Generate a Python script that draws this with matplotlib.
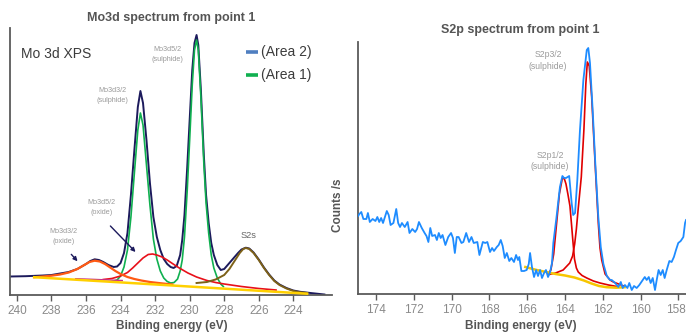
import matplotlib
matplotlib.use('Agg')
import matplotlib.pyplot as plt
import matplotlib.transforms as mtransforms

plt.rcParams['font.family'] = ['Liberation Sans', 'DejaVu Sans']

# ---- Mo3d panel (binding energy eV, counts in arbitrary units) ----
env_ev = [240.4, 239.5, 238.5, 238.0, 237.5, 237.0, 236.5, 236.0, 235.75, 235.5,
          235.25, 235.0, 234.7, 234.4, 234.2, 234.0, 233.8, 233.6, 233.4, 233.2,
          233.0, 232.85, 232.7, 232.5, 232.3, 232.1, 231.9, 231.7, 231.5, 231.3,
          231.1, 230.93, 230.75, 230.55, 230.43, 230.3, 230.14, 230.0, 229.85, 229.72,
          229.6, 229.5, 229.35, 229.18, 229.05, 228.9, 228.75, 228.6, 228.4, 228.2,
          228.0, 227.8, 227.5, 227.2, 227.0, 226.75, 226.55, 226.3, 226.0, 225.7,
          225.4, 225.1, 224.8, 224.4, 224.0, 223.6, 223.0, 222.2]
env_counts = [18.5, 18.8, 19.5, 20, 21.5, 23, 26, 31, 34, 35.7,
              35, 33, 30, 28, 28.5, 32, 42, 62, 100, 145,
              188, 204, 192, 155, 112, 78, 58, 45, 36, 31,
              28, 27, 29, 40, 55, 80, 128, 175, 225, 252,
              260, 250, 205, 140, 100, 72, 52, 40, 30, 25,
              26, 30, 36, 42, 45.5, 47.3, 46.5, 42.5, 35.5, 27.5,
              20.5, 14.5, 10.5, 7, 4.5, 3.2, 2, 0.5]

area1_ev = [234.5, 234.2, 234.0, 233.8, 233.6, 233.4, 233.2, 233.0, 232.85, 232.7,
            232.5, 232.3, 232.1, 231.9, 231.7, 231.5, 231.3, 231.1, 230.9, 230.7,
            230.55, 230.43, 230.3, 230.14, 230.0, 229.85, 229.72, 229.6, 229.5, 229.35,
            229.18, 229.05, 228.9, 228.75, 228.6, 228.4, 228.2, 228.05]
area1_counts = [13.5, 15, 19, 28, 45, 78, 122, 165, 182, 170,
                130, 90, 56, 36, 24, 17, 13.5, 12, 12.5, 16,
                24, 35, 58, 105, 155, 210, 245, 255, 245, 198,
                132, 92, 62, 40, 27, 17, 11, 8.5]

mo_bg_ev = [239.0, 231.0, 223.2]
mo_bg_counts = [17.8, 9.5, 1.3]

ox52_ev = [235.0, 234.5, 234.0, 233.6, 233.3, 233.0, 232.7, 232.4, 232.15, 231.9,
           231.6, 231.3, 231.0, 230.6, 230.1, 229.6, 229.0, 228.5, 228.0, 227.0,
           226.0, 225.0]
ox52_counts = [15.5, 16.5, 19, 22.5, 27, 32, 37, 40.5, 41, 40,
               38, 35, 31.5, 27, 22, 18, 14.5, 12.5, 11, 8.5,
               6.5, 5]

ox32_ev = [239.0, 238.5, 238.0, 237.5, 237.0, 236.5, 236.1, 235.8, 235.5, 235.2,
           234.9, 234.6, 234.3, 234.0, 233.6, 233.2, 232.8, 232.3, 231.8, 231.0]
ox32_counts = [17.8, 18.5, 19.3, 20.5, 22.5, 26, 30, 33, 34.3, 33.5,
               31, 27.5, 24, 21, 18, 16, 14.5, 13, 12, 10.5]

minor_ev = [236.6, 235.5, 234.4, 233.9]
minor_counts = [16.3, 15.6, 14.8, 14.5]

s2s_ev = [229.6, 229.0, 228.5, 228.0, 227.7, 227.4, 227.1, 226.9, 226.75, 226.55,
          226.3, 226.0, 225.7, 225.4, 225.1, 224.8, 224.4, 224.0, 223.6, 223.2]
s2s_counts = [12, 13, 15.5, 20, 26, 34, 42, 46, 47, 46,
              42, 35, 27, 20, 14, 10, 6.5, 4, 2.8, 2]

# ---- S2p panel ----
s2p_ev = [174.95, 174.88, 174.78, 174.67, 174.51, 174.43, 174.33, 174.18, 174.03, 173.93,
          173.83, 173.73, 173.63, 173.43, 173.33, 173.23, 173.08, 172.93, 172.83, 172.73,
          172.63, 172.48, 172.33, 172.23, 172.08, 171.93, 171.83, 171.73, 171.58, 171.43,
          171.33, 171.23, 171.13, 171.03, 170.88, 170.78, 170.68, 170.58, 170.48, 170.33,
          170.18, 170.03, 169.93, 169.83, 169.73, 169.63, 169.48, 169.38, 169.23, 169.08,
          168.95, 168.83, 168.64, 168.53, 168.35, 168.22, 168.11, 167.97, 167.86, 167.76,
          167.61, 167.51, 167.40, 167.30, 167.19, 167.08, 166.95, 166.84, 166.70, 166.59,
          166.49, 166.42, 166.31, 166.17, 166.03, 165.92, 165.85, 165.75, 165.64, 165.53,
          165.43, 165.32, 165.22, 165.11, 165.01, 164.90, 164.79, 164.69, 164.62, 164.45,
          164.27, 164.14, 164.05, 163.95, 163.78, 163.65, 163.57, 163.47, 163.35, 163.21,
          163.03, 162.85, 162.77, 162.68, 162.53, 162.40, 162.24, 162.11, 161.97, 161.79,
          161.62, 161.53, 161.35, 161.18, 161.05, 160.95, 160.83, 160.70, 160.60, 160.47,
          160.35, 160.21, 160.07, 159.89, 159.78, 159.68, 159.57, 159.47, 159.36, 159.24,
          159.15, 159.05, 158.94, 158.83, 158.73, 158.62, 158.48, 158.36, 158.24, 158.13,
          158.01, 157.88, 157.74, 157.65, 157.6]
s2p_counts = [78, 80, 82, 75, 75, 81, 72, 75, 73, 77,
              72, 76, 71, 83, 79, 69, 71, 85, 71, 67,
              71, 67, 72, 61, 65, 62, 65, 72, 66, 61,
              58, 52, 66, 58, 59, 54, 61, 56, 59, 49,
              57, 61, 56, 41, 57, 57, 51, 52, 61, 52,
              57, 51, 52, 39, 52, 51, 52, 42, 46, 43,
              47, 49, 54, 48, 36, 41, 33, 36, 32, 39,
              34, 37, 23, 23, 24, 30, 41, 27, 17, 24,
              18, 24, 16, 21, 24, 17, 22, 31, 51, 77,
              107, 118, 116, 116, 118, 91, 79, 81, 114, 164,
              214, 244, 246, 231, 181, 131, 77, 47, 30, 18,
              14, 14, 11, 7, 12, 6, 9, 6, 11, 4,
              8, 6, 9, 14, 17, 14, 17, 11, 16, 4,
              14, 24, 19, 24, 16, 24, 33, 32, 37, 44,
              51, 53, 57, 71, 74]

p12_ev = [164.9, 164.75, 164.6, 164.45, 164.3, 164.15, 164.05, 163.95, 163.85, 163.74,
          163.65, 163.58, 163.5, 163.4, 163.3, 163.1, 162.85, 162.5, 162.15, 161.7, 161.26]
p12_counts = [20, 24, 40, 70, 100, 115, 116, 110, 100, 88,
              68, 52, 35, 26, 22, 18.5, 16, 13, 11, 9, 7.5]

p32_ev = [164.85, 164.5, 164.1, 163.75, 163.6, 163.49, 163.4, 163.31, 163.14, 163.0,
          162.9, 162.82, 162.72, 162.59, 162.41, 162.24, 162.15, 162.06, 161.88, 161.79,
          161.62, 161.44, 161.1, 160.9]
p32_counts = [19.5, 21, 24, 31, 38, 50, 65, 84, 117, 165,
              210, 232, 228, 197, 131, 71, 46, 34, 20, 18,
              14, 12, 9.5, 8]

s_bg_ev = [166.1, 165.8, 165.5, 165.0, 164.5, 164.0, 163.5, 163.0, 162.6, 162.2,
           161.8, 161.3, 160.85]
s_bg_counts = [27, 25.5, 24, 22, 20, 18.5, 16.5, 13.5, 10.5, 8,
               6.8, 6.3, 6.8]

grey_axis = '#5a5a5a'
tick_grey = '#8a8a8a'
title_grey = '#555555'

fig = plt.figure(figsize=(6.86, 3.34), dpi=100)
ax1 = fig.add_axes([10 / 686, 39 / 334, 322 / 686, 267 / 334])
ax2 = fig.add_axes([357.7 / 686, 40 / 334, 328.3 / 686, 252.3 / 334])

for ax in (ax1, ax2):
    for side in ('top', 'right'):
        ax.spines[side].set_visible(False)
    for side in ('left', 'bottom'):
        ax.spines[side].set_color(grey_axis)
        ax.spines[side].set_linewidth(1.3)
    ax.set_yticks([])
    ax.tick_params(axis='x', direction='out', length=4, width=1, color=grey_axis,
                   labelsize=8.5, labelcolor=tick_grey, pad=3)

# Mo3d
ax1.plot(env_ev, env_counts, color='#1c1a5c', lw=1.4, zorder=2)
ax1.plot(area1_ev, area1_counts, color='#10b050', lw=1.2, zorder=3)
ax1.plot(ox52_ev, ox52_counts, color='#e8101a', lw=1.2, zorder=3)
ax1.plot(ox32_ev, ox32_counts, color='#ff5a14', lw=1.6, zorder=3)
ax1.plot(minor_ev, minor_counts, color='#c8308c', lw=1.0, zorder=3)
ax1.plot(s2s_ev, s2s_counts, color='#7d6118', lw=1.4, zorder=3)
ax1.plot(mo_bg_ev, mo_bg_counts, color='#ffd000', lw=1.8, zorder=4)
ax1.set_xlim(240.4, 221.76)
ax1.set_ylim(0, 267)
ax1.set_xticks(range(240, 223, -2))

ann_grey = '#9a9a9a'
ax1.text(231.3, 240.5, 'Mo3d5/2\n(sulphide)', fontsize=5.2, color=ann_grey,
         ha='center', va='center', linespacing=1.5)
ax1.text(234.49, 199.3, 'Mo3d3/2\n(sulphide)', fontsize=5.2, color=ann_grey,
         ha='center', va='center', linespacing=1.5)
ax1.text(235.12, 87.5, 'Mo3d5/2\n(oxide)', fontsize=5.2, color=ann_grey,
         ha='center', va='center', linespacing=1.5)
ax1.text(237.3, 58.5, 'Mo3d3/2\n(oxide)', fontsize=5.2, color=ann_grey,
         ha='center', va='center', linespacing=1.5)
ax1.text(226.6, 59, 'S2s', fontsize=6.7, color='#666666', ha='center', va='center')
arrow_style = dict(arrowstyle='-|>', color='#1c1a5c', lw=1.0, mutation_scale=6)
ax1.annotate('', xy=(236.38, 31.7), xytext=(236.96, 42.7), arrowprops=arrow_style)
ax1.annotate('', xy=(233.02, 41), xytext=(234.7, 71), arrowprops=arrow_style)

ax1.text(0.034, 0.903, 'Mo 3d XPS', transform=ax1.transAxes, fontsize=10,
         color='#3c3c3c', ha='left', va='center')
ax1.plot([0.733, 0.770], [0.910, 0.910], transform=ax1.transAxes, color='#4f7fc0',
         lw=2.6, solid_capstyle='butt', clip_on=False)
ax1.plot([0.733, 0.770], [0.824, 0.824], transform=ax1.transAxes, color='#10b050',
         lw=2.6, solid_capstyle='butt', clip_on=False)
ax1.text(0.780, 0.910, '(Area 2)', transform=ax1.transAxes, fontsize=10,
         color='#3c3c3c', ha='left', va='center')
ax1.text(0.780, 0.824, '(Area 1)', transform=ax1.transAxes, fontsize=10,
         color='#3c3c3c', ha='left', va='center')

# S2p
ax2.plot(s2p_ev, s2p_counts, color='#1e8cff', lw=1.3, zorder=3)
ax2.plot(p12_ev, p12_counts, color='#e00000', lw=1.2, zorder=2)
ax2.plot(p32_ev, p32_counts, color='#e00000', lw=1.2, zorder=2)
ax2.plot(s_bg_ev, s_bg_counts, color='#f7c600', lw=1.8, zorder=2)
ax2.set_xlim(174.97, 157.6)
ax2.set_ylim(0, 252.3)
ax2.set_xticks(range(174, 157, -2))
# keep the last tick label inside the figure edge
last_lbl = ax2.get_xticklabels()[-1]
last_lbl.set_transform(last_lbl.get_transform() +
                       mtransforms.ScaledTranslation(-3 / 100, 0, fig.dpi_scale_trans))
ax2.text(164.9, 233.5, 'S2p3/2\n(sulphide)', fontsize=6.2, color=ann_grey,
         ha='center', va='center', linespacing=1.3)
ax2.text(164.79, 133, 'S2p1/2\n(sulphide)', fontsize=6.2, color=ann_grey,
         ha='center', va='center', linespacing=1.3)

fig.text(171 / 686, 1 - 18 / 334, 'Mo3d spectrum from point 1', fontsize=9,
         fontweight='bold', color=title_grey, ha='center', va='center')
fig.text(520 / 686, 1 - 30 / 334, 'S2p spectrum from point 1', fontsize=9,
         fontweight='bold', color=title_grey, ha='center', va='center')
fig.text(172 / 686, 1 - 326 / 334, 'Binding energy (eV)', fontsize=8.5,
         fontweight='bold', color=title_grey, ha='center', va='center')
fig.text(521 / 686, 1 - 326 / 334, 'Binding energy (eV)', fontsize=8.5,
         fontweight='bold', color=title_grey, ha='center', va='center')
fig.text(338 / 686, 1 - 205 / 334, 'Counts /s', fontsize=8.5, rotation=90,
         fontweight='bold', color=title_grey, ha='center', va='center')

fig.savefig('out.png', dpi=100)
